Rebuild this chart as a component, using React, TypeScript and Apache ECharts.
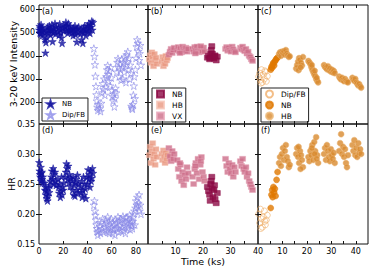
import React, { useEffect, useRef } from 'react';
import * as echarts from 'echarts';

// ---------- Panel (a)/(d): NB and Dip/FB ----------
const nbATime = [
  0.2, 0.5, 0.8, 1.1, 1.4, 1.7, 2.0, 2.3, 2.6, 2.9, 3.2,
  4.6, 5.0, 5.3, 5.7, 6.1, 6.5, 7.0, 7.5, 8.0, 8.5, 9.0, 9.5,
  10.2, 10.7, 11.2, 11.7, 12.2, 12.7, 13.2, 13.7, 14.2,
  15.6, 16.1, 16.6, 17.1, 17.6, 18.1, 18.6, 19.1, 19.6, 20.1, 20.6,
  21.7, 22.2, 22.7, 23.2, 23.7, 24.2, 24.7, 25.2, 25.7, 26.2,
  27.2, 27.7, 28.2, 28.7, 29.2, 29.7, 30.2, 30.7, 31.2, 31.7, 32.2, 32.8,
  34.2, 34.7, 35.2, 35.7, 36.2, 36.7, 37.2, 37.7, 38.2, 38.7,
  39.6, 40.1, 40.6, 41.1, 41.6, 42.1, 42.6, 43.1, 43.6, 44.1, 44.6,
];
const nbAInt = [
  512, 528, 500, 520, 495, 535, 510, 522, 488, 506, 518,
  500, 470, 413, 458, 480, 505, 525, 512, 498, 530, 515, 490,
  515, 535, 462, 500, 520, 508, 540, 495, 525,
  505, 522, 490, 538, 515, 500, 478, 455, 520, 532, 508,
  525, 545, 510, 530, 498, 540, 515, 505, 528, 512,
  500, 515, 488, 520, 505, 530, 492, 510, 460, 518, 500, 525,
  495, 515, 470, 505, 455, 520, 500, 530, 510, 488,
  515, 530, 505, 540, 520, 498, 535, 525, 550, 512, 545,
];
const nbAHR = [
  0.286, 0.272, 0.266, 0.262, 0.278, 0.255, 0.268, 0.270, 0.258, 0.252, 0.262,
  0.252, 0.240, 0.245, 0.232, 0.238, 0.226, 0.222, 0.230, 0.244, 0.236, 0.248, 0.255,
  0.262, 0.272, 0.258, 0.276, 0.250, 0.266, 0.270, 0.255, 0.248,
  0.258, 0.245, 0.235, 0.250, 0.228, 0.238, 0.262, 0.232, 0.245, 0.240, 0.252,
  0.262, 0.270, 0.284, 0.276, 0.258, 0.280, 0.252, 0.266, 0.246, 0.260,
  0.255, 0.240, 0.262, 0.232, 0.248, 0.230, 0.252, 0.258, 0.240, 0.265, 0.236, 0.250,
  0.246, 0.236, 0.255, 0.228, 0.240, 0.262, 0.232, 0.250, 0.242, 0.226,
  0.262, 0.250, 0.274, 0.258, 0.266, 0.245, 0.272, 0.255, 0.260, 0.276, 0.268,
];

const dipATime = [
  45.3, 45.8, 46.2, 46.6, 47.0, 47.4, 47.8, 48.2, 48.6, 49.0,
  50.2, 50.8, 51.4, 52.0, 52.6, 53.2, 53.8, 54.4, 55.0, 55.6,
  56.2, 56.7, 57.2, 57.7, 58.2, 58.7, 59.2, 59.7,
  60.2, 60.7, 61.2, 61.7, 62.2, 62.7, 63.2, 63.7,
  64.2, 64.7, 65.2, 65.7, 66.2, 66.7, 67.2, 67.7,
  68.3, 68.8, 69.3, 69.8, 70.3, 70.8, 71.3, 71.8,
  72.3, 72.8, 73.3, 73.8, 74.3, 74.8, 75.3, 75.8,
  76.3, 76.7, 77.1, 77.5, 77.9, 78.3, 78.7, 79.1,
  79.6, 80.1, 80.6, 81.1, 81.6, 82.1, 82.6, 83.1, 83.6, 84.2,
];
const dipAInt = [
  432, 398, 362, 312, 268, 232, 205, 178, 165, 190,
  172, 160, 195, 240, 280, 255, 300, 230, 265, 310,
  340, 358, 320, 290, 335, 270, 350, 305,
  250, 225, 205, 235, 180, 215, 260, 240,
  330, 372, 388, 350, 310, 365, 340, 295,
  385, 350, 300, 370, 330, 395, 360, 285,
  405, 375, 418, 340, 390, 300, 360, 325,
  182, 175, 170, 190, 230, 270, 310, 215,
  340, 390, 440, 470, 455, 420, 380, 410, 445, 360,
];
const dipAHR = [
  0.215, 0.222, 0.205, 0.198, 0.190, 0.182, 0.176, 0.170, 0.165, 0.172,
  0.180, 0.168, 0.186, 0.175, 0.192, 0.170, 0.183, 0.178, 0.190, 0.172,
  0.185, 0.195, 0.170, 0.180, 0.168, 0.188, 0.176, 0.192,
  0.178, 0.168, 0.186, 0.174, 0.182, 0.165, 0.190, 0.176,
  0.185, 0.176, 0.195, 0.170, 0.188, 0.180, 0.192, 0.172,
  0.190, 0.178, 0.196, 0.172, 0.185, 0.180, 0.168, 0.194,
  0.186, 0.195, 0.176, 0.190, 0.182, 0.198, 0.174, 0.188,
  0.185, 0.180, 0.176, 0.188, 0.195, 0.200, 0.205, 0.182,
  0.210, 0.222, 0.215, 0.228, 0.212, 0.218, 0.232, 0.205, 0.215, 0.200,
];

// ---------- Panel (b)/(e): NB, HB, VX ----------
const hbBTime = [0.5, 0.8, 1.1, 1.4, 1.7, 2.0, 2.3, 2.6, 2.9, 3.2, 5.0, 5.3, 5.6, 5.9, 6.2, 6.5, 6.8, 7.1];
const hbBInt = [385, 402, 370, 415, 395, 355, 408, 380, 392, 365, 375, 395, 355, 385, 365, 400, 380, 390];
const hbBHR = [0.298, 0.312, 0.285, 0.305, 0.318, 0.292, 0.300, 0.282, 0.308, 0.295, 0.300, 0.290, 0.306, 0.296, 0.285, 0.302, 0.292, 0.298];

const vxBTime = [
  7.6, 8.0, 8.4, 8.8, 9.2, 9.5,
  10.6, 11.0, 11.4, 11.8, 12.2, 12.6, 13.0, 13.4, 13.8, 14.2, 14.6, 11.6,
  16.2, 16.6, 17.0, 17.4, 17.8, 18.2, 18.6, 19.0, 19.4, 19.8, 20.2, 20.6, 17.2, 19.2,
  28.2, 28.6, 29.0, 29.4, 29.8, 30.2, 30.6, 31.0, 31.4, 31.8,
  33.6, 34.0, 34.4, 34.8, 35.2, 35.6, 36.0, 36.4, 36.8, 37.2, 37.6, 38.0,
];
const vxBInt = [
  405, 418, 430, 412, 425, 435,
  425, 438, 420, 432, 415, 440, 428, 422, 435, 418, 430, 412,
  430, 418, 438, 425, 440, 422, 415, 432, 428, 420, 436, 418, 410, 442,
  430, 438, 422, 435, 425, 418, 440, 428, 420, 415,
  435, 428, 440, 425, 420, 430, 410, 418, 400, 395, 385, 378,
];
const vxBHR = [
  0.310, 0.296, 0.288, 0.305, 0.292, 0.300,
  0.290, 0.275, 0.262, 0.282, 0.255, 0.270, 0.248, 0.265, 0.258, 0.278, 0.268, 0.285,
  0.262, 0.250, 0.275, 0.285, 0.268, 0.292, 0.258, 0.282, 0.295, 0.270, 0.262, 0.255, 0.280, 0.288,
  0.292, 0.280, 0.270, 0.285, 0.275, 0.268, 0.282, 0.262, 0.278, 0.270,
  0.288, 0.280, 0.292, 0.275, 0.270, 0.278, 0.262, 0.268, 0.255, 0.250, 0.245, 0.240,
];

const nbBTime = [21.6, 22.0, 22.4, 22.8, 23.2, 23.6, 24.0, 24.4, 24.8, 25.2, 23.0, 23.4, 22.6, 24.2];
const nbBInt = [392, 400, 385, 408, 442, 395, 388, 402, 380, 396, 425, 410, 390, 398];
const nbBHR = [0.245, 0.238, 0.232, 0.250, 0.262, 0.228, 0.240, 0.225, 0.218, 0.235, 0.255, 0.242, 0.222, 0.248];

// ---------- Panel (c)/(f): Dip/FB, NB, HB ----------
const dipCTime = [0.3, 0.7, 1.0, 1.4, 1.8, 2.2, 2.6, 3.0, 3.4, 3.8, 1.2, 2.8];
const dipCInt = [310, 325, 295, 340, 285, 318, 300, 330, 290, 312, 282, 335];
const dipCHR = [0.200, 0.185, 0.208, 0.192, 0.178, 0.195, 0.205, 0.182, 0.190, 0.198, 0.176, 0.188];

const nbCTime = [5.2, 5.5, 5.8, 6.0, 6.3, 6.6, 6.9, 7.2, 7.6, 8.0];
const nbCInt = [340, 352, 348, 362, 370, 358, 375, 382, 388, 392];
const nbCHR = [0.210, 0.232, 0.240, 0.228, 0.245, 0.236, 0.242, 0.230, 0.257, 0.270];

const hbCTime = [
  8.6, 9.0, 9.4, 9.8, 10.2, 10.6, 11.0, 11.4, 11.8, 12.2, 12.6, 13.0,
  15.6, 16.0, 16.4, 16.8, 17.2, 17.6, 18.0, 18.4, 16.6, 17.4,
  20.6, 21.0, 21.4, 21.8, 22.2, 22.6, 23.0, 23.4, 23.8, 24.2, 24.6, 22.0, 23.2, 24.0,
  27.0, 27.4, 27.8, 28.2, 28.6, 29.0, 29.4, 29.8, 30.2, 30.6, 31.0, 31.4,
  33.2, 33.6, 34.0, 34.4, 34.8, 35.2, 35.6, 36.0, 36.4, 36.8,
  38.6, 39.0, 39.4, 39.8, 40.2, 40.6, 41.0, 41.4, 41.8, 42.2,
];
const hbCInt = [
  408, 415, 400, 418, 412, 420, 405, 425, 410, 402, 395, 398,
  345, 360, 375, 390, 382, 370, 358, 395, 338, 350,
  378, 372, 365, 352, 340, 330, 320, 312, 300, 292, 285, 360, 335, 305,
  360, 352, 348, 342, 355, 338, 345, 332, 340, 328, 335, 325,
  310, 302, 298, 305, 295, 290, 300, 292, 288, 285,
  305, 298, 292, 300, 285, 280, 272, 278, 268, 262,
];
const hbCHR = [
  0.285, 0.295, 0.280, 0.300, 0.310, 0.290, 0.305, 0.315, 0.295, 0.288, 0.278, 0.282,
  0.300, 0.310, 0.295, 0.285, 0.305, 0.298, 0.290, 0.278, 0.312, 0.275,
  0.295, 0.288, 0.305, 0.298, 0.315, 0.290, 0.320, 0.305, 0.328, 0.298, 0.285, 0.310, 0.300, 0.292,
  0.300, 0.310, 0.290, 0.315, 0.305, 0.295, 0.288, 0.308, 0.298, 0.292, 0.302, 0.285,
  0.305, 0.318, 0.333, 0.300, 0.312, 0.295, 0.308, 0.285, 0.278, 0.298,
  0.315, 0.305, 0.323, 0.298, 0.310, 0.295, 0.318, 0.302, 0.308, 0.300,
];

// ---------- Axis ticks / labels ----------
const xTicksA = [20, 40, 60, 80];
const xLabelsA = [0, 20, 40, 60, 80];
const xTicksB = [5, 10, 15, 20, 25, 30, 35];
const xLabelsB = [10, 20, 30, 40];
const xTicksC = [5, 10, 15, 20, 25, 30, 35, 40];
const xLabelsC = [10, 20, 30, 40];
const yTicksTop = [200, 300, 400, 500, 600];
const yTicksBottom = [0.2, 0.25, 0.3];
const yLabelsBottom = [0.15, 0.2, 0.25, 0.3, 0.35];
const panelLabels = ['(a)', '(b)', '(c)', '(d)', '(e)', '(f)'];

const STAR =
  'path://M0,-10L2.245,-3.09L9.51,-3.09L3.633,1.18L5.88,8.09L0,3.82L-5.88,8.09L-3.633,1.18L-9.51,-3.09L-2.245,-3.09Z';

const FONT = 'DejaVu Sans';

const zip = (a: number[], b: number[]) => a.map((x, i) => [x, b[i]]);

export default function App() {
  const ref = useRef<HTMLDivElement>(null);

  useEffect(() => {
    if (!ref.current) return;
    const chart = echarts.init(ref.current, undefined, { renderer: 'svg' });

    const colL = [39, 148, 258];
    const colW = [109, 110, 110];
    const rowT = [5, 124];
    const rowH = [119, 120];
    const xRanges = [
      [0, 90],
      [0, 40],
      [0, 45],
    ];
    const xTicks = [xTicksA, xTicksB, xTicksC];
    const xLabels = [xLabelsA, xLabelsB, xLabelsC];

    const grids: any[] = [];
    const xAxes: any[] = [];
    const yAxes: any[] = [];
    const xTop: any[] = [];
    const yRight: any[] = [];
    for (let r = 0; r < 2; r++) {
      for (let c = 0; c < 3; c++) {
        const i = r * 3 + c;
        grids.push({
          left: colL[c],
          top: rowT[r],
          width: colW[c],
          height: rowH[r],
          show: true,
          borderColor: '#111',
          borderWidth: 1,
          backgroundColor: 'transparent',
        });
        const tickCommon = {
          show: true,
          inside: true,
          length: 3,
          lineStyle: { color: '#111', width: 1 },
        };
        xAxes.push({
          type: 'value',
          gridIndex: i,
          min: xRanges[c][0],
          max: xRanges[c][1],
          axisLine: { show: false },
          splitLine: { show: false },
          axisTick: { ...tickCommon, customValues: xTicks[c] },
          axisLabel: {
            show: r === 1,
            customValues: xLabels[c],
            fontSize: 8,
            fontFamily: FONT,
            color: '#000',
            margin: 3,
          },
        });
        xTop.push({
          type: 'value',
          gridIndex: i,
          position: 'top',
          min: xRanges[c][0],
          max: xRanges[c][1],
          axisLine: { show: false },
          splitLine: { show: false },
          axisTick: { ...tickCommon, customValues: xTicks[c] },
          axisLabel: { show: false },
        });
        const yMin = r === 0 ? 105 : 0.15;
        const yMax = r === 0 ? 620 : 0.35;
        const yT = r === 0 ? yTicksTop : yTicksBottom;
        const yL = r === 0 ? yTicksTop : yLabelsBottom;
        yAxes.push({
          type: 'value',
          gridIndex: i,
          min: yMin,
          max: yMax,
          axisLine: { show: false },
          splitLine: { show: false },
          axisTick: { ...tickCommon, customValues: yT },
          axisLabel: {
            show: c === 0,
            customValues: yL,
            fontSize: 8,
            fontFamily: FONT,
            color: '#000',
            margin: 4,
            formatter: (v: number) => (r === 0 ? String(v) : v.toFixed(2)),
          },
        });
        yRight.push({
          type: 'value',
          gridIndex: i,
          position: 'right',
          min: yMin,
          max: yMax,
          axisLine: { show: false },
          splitLine: { show: false },
          axisTick: { ...tickCommon, customValues: yT },
          axisLabel: { show: false },
        });
      }
    }

    const blue = '#10109e';
    const dipBlue = '#8a8ae8';
    const maroon = '#8c0a45';
    const hbPink = '#e8977f';
    const vxPink = '#cc6d88';
    const dipOrange = '#f0ae6a';
    const nbOrange = '#e07800';
    const hbOrange = '#d88a2e';

    const mk = (
      name: string,
      grid: number,
      data: number[][],
      symbol: string,
      size: number | number[],
      color: string,
      border: string,
      bw = 0.6
    ) => ({
      type: 'scatter',
      name,
      xAxisIndex: grid,
      yAxisIndex: grid,
      data,
      symbol,
      symbolSize: size,
      itemStyle: { color, borderColor: border, borderWidth: bw },
      emphasis: { disabled: true },
      silent: true,
    });

    const series = [
      mk('NB|a', 0, zip(nbATime, nbAInt), STAR, 7.5, blue, blue),
      mk('Dip/FB|a', 0, zip(dipATime, dipAInt), STAR, 7.5, 'rgba(255,255,255,0)', dipBlue, 0.8),
      mk('NB|d', 3, zip(nbATime, nbAHR), STAR, 7.5, blue, blue),
      mk('Dip/FB|d', 3, zip(dipATime, dipAHR), STAR, 7.5, 'rgba(255,255,255,0)', dipBlue, 0.8),

      mk('HB|b', 1, zip(hbBTime, hbBInt), 'rect', [6, 5], hbPink, '#f6c6b8'),
      mk('VX|b', 1, zip(vxBTime, vxBInt), 'rect', [6, 5], vxPink, '#e8a8ba'),
      mk('NB|b', 1, zip(nbBTime, nbBInt), 'rect', [6, 5], maroon, maroon),
      mk('HB|e', 4, zip(hbBTime, hbBHR), 'rect', [6, 5], hbPink, '#f6c6b8'),
      mk('VX|e', 4, zip(vxBTime, vxBHR), 'rect', [6, 5], vxPink, '#e8a8ba'),
      mk('NB|e', 4, zip(nbBTime, nbBHR), 'rect', [6, 5], maroon, maroon),

      mk('Dip/FB|c', 2, zip(dipCTime, dipCInt), 'circle', 6, 'rgba(255,255,255,0)', dipOrange, 0.8),
      mk('NB|c', 2, zip(nbCTime, nbCInt), 'circle', 6, nbOrange, nbOrange),
      mk('HB|c', 2, zip(hbCTime, hbCInt), 'circle', 6, hbOrange, '#ebb878'),
      mk('Dip/FB|f', 5, zip(dipCTime, dipCHR), 'circle', 6, 'rgba(255,255,255,0)', dipOrange, 0.8),
      mk('NB|f', 5, zip(nbCTime, nbCHR), 'circle', 6, nbOrange, nbOrange),
      mk('HB|f', 5, zip(hbCTime, hbCHR), 'circle', 6, hbOrange, '#ebb878'),
    ];

    const legendBase = (fs: number) => ({
      orient: 'vertical',
      borderColor: '#222',
      borderWidth: 1,
      borderRadius: 0,
      padding: [1, 3, 1, 4],
      itemGap: 1,
      itemWidth: 7,
      itemHeight: 7,
      selectedMode: false,
      textStyle: { fontSize: fs, lineHeight: 10, fontFamily: FONT, color: '#000', padding: [0, 0, 0, 3] },
      formatter: (n: string) => n.split('|')[0],
    });

    const labelPos = [
      [42, 12],
      [151, 12],
      [261, 12],
      [42, 131],
      [151, 131],
      [261, 131],
    ];

    chart.setOption({
      animation: false,
      grid: grids,
      xAxis: [...xAxes, ...xTop],
      yAxis: [...yAxes, ...yRight],
      series,
      legend: [
        { ...legendBase(7), left: 42, top: 98, data: ['NB|a', 'Dip/FB|a'] },
        { ...legendBase(7.5), left: 152, top: 88, data: ['NB|b', 'HB|b', 'VX|b'] },
        { ...legendBase(7.5), left: 261, top: 88, data: ['Dip/FB|c', 'NB|c', 'HB|c'] },
      ],
      graphic: [
        ...panelLabels.map((t, i) => ({
          type: 'text',
          left: labelPos[i][0],
          top: labelPos[i][1] - 5,
          style: { text: t, fontSize: 8, fontFamily: FONT, fill: '#000' },
        })),
        {
          type: 'text',
          x: 13,
          y: 64,
          rotation: Math.PI / 2,
          style: {
            text: '3-20 keV Intensity',
            fontSize: 9.5,
            fontFamily: FONT,
            fill: '#000',
            textAlign: 'center',
            textVerticalAlign: 'middle',
          },
        },
        {
          type: 'text',
          x: 11,
          y: 184,
          rotation: Math.PI / 2,
          style: {
            text: 'HR',
            fontSize: 9.5,
            fontFamily: FONT,
            fill: '#000',
            textAlign: 'center',
            textVerticalAlign: 'middle',
          },
        },
        {
          type: 'text',
          x: 203,
          y: 261,
          style: {
            text: 'Time (ks)',
            fontSize: 9.5,
            fontFamily: FONT,
            fill: '#000',
            textAlign: 'center',
            textVerticalAlign: 'middle',
          },
        },
      ],
    });

    return () => chart.dispose();
  }, []);

  return (
    <div
      ref={ref}
      style={{ position: 'fixed', left: 0, top: 0, width: 377, height: 266, background: '#fff' }}
    />
  );
}
